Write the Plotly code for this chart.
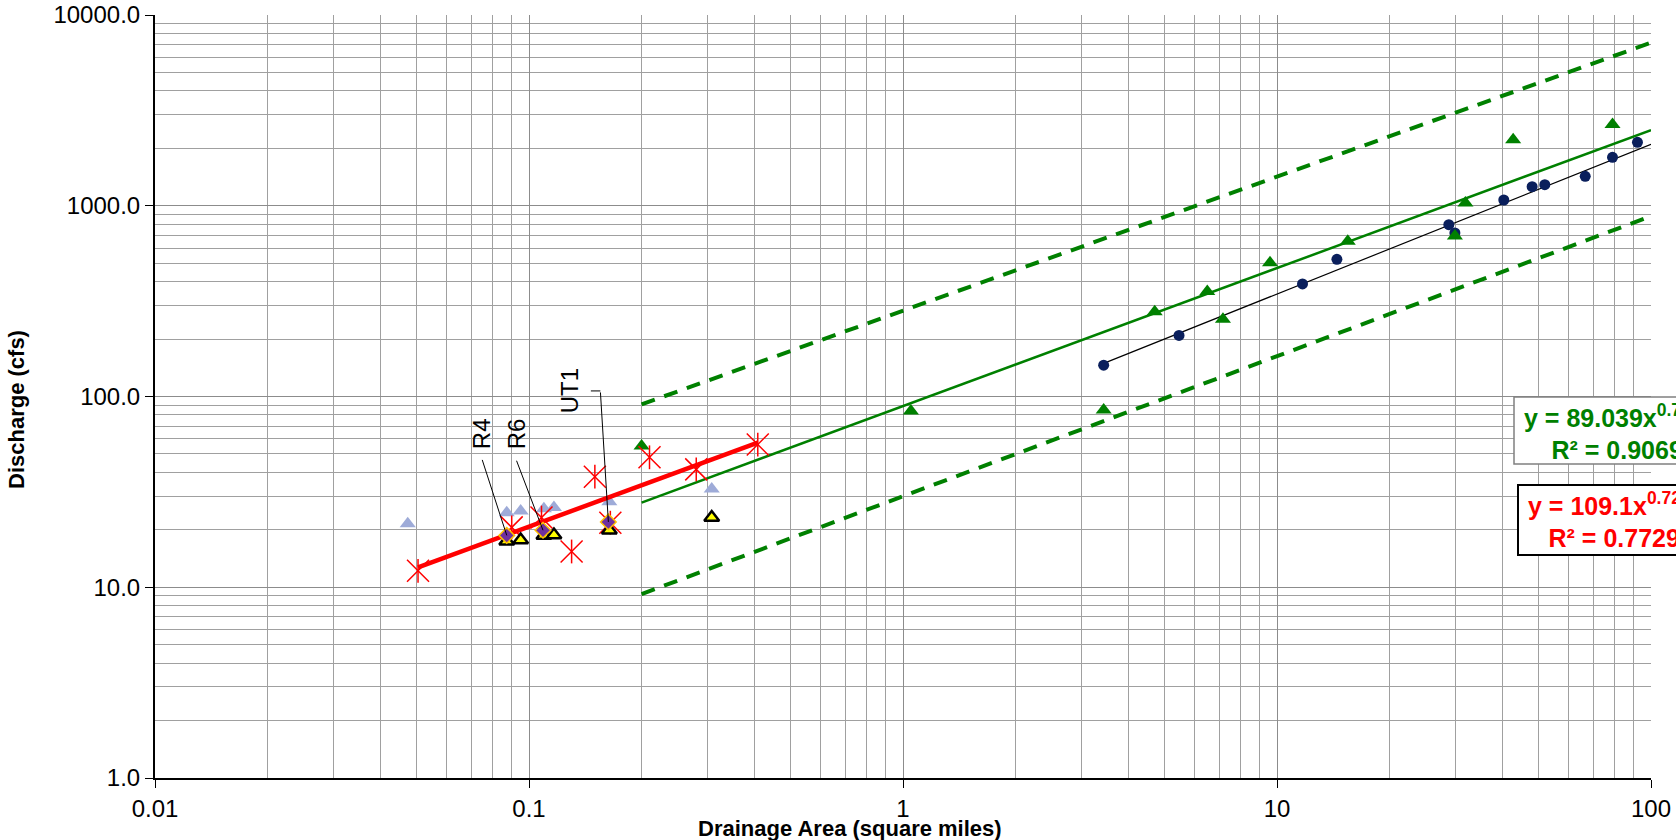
import numpy as np
import plotly.graph_objects as go

# ---------------- data ----------------
# USGS gauge stations (navy circles)
gauge_area = [3.44, 5.47, 11.7, 14.46, 28.8, 29.9, 40.4, 48.1, 52.0, 66.7, 78.9, 92.0]
gauge_q = [146, 209, 389, 524, 796, 720, 1072, 1259, 1289, 1427, 1795, 2151]

# regional curve data (green triangles)
regional_area = [0.2, 1.05, 3.44, 4.71, 6.51, 7.17, 9.58, 15.46, 29.9, 31.9, 42.8, 78.9]
regional_q = [55, 84, 85, 278, 355, 254, 502, 652, 695, 1035, 2220, 2670]

# small watershed data (red stars)
small_area = [0.0505, 0.0899, 0.108, 0.130, 0.150, 0.165, 0.210, 0.280, 0.409]
small_q = [12.2, 20.6, 23.2, 15.4, 38.0, 21.8, 48.0, 41.5, 56.0]

# light blue triangles
lb_area = [0.0474, 0.0872, 0.095, 0.1096, 0.1166, 0.164, 0.308]
lb_q = [21.5, 24.6, 25.1, 25.8, 26.2, 28.1, 32.7]

# yellow triangles
yel_area = [0.0872, 0.0950, 0.1096, 0.1166, 0.164, 0.308]
yel_q = [17.4, 17.7, 18.7, 18.8, 19.9, 23.2]

# project reaches (purple diamonds)
reach_names = ["R4", "R6", "UT1"]
reach_area = [0.0872, 0.109, 0.163]
reach_q = [18.7, 19.9, 22.0]

# trend lines: (coefficient, exponent, x-start, x-end)
green_fit = (89.039, 0.7236, 0.2, 100)
green_upper = (281.8, 0.7025, 0.2, 100)
green_lower = (30.0, 0.7342, 0.2, 100)
gauge_fit = (56.6, 0.7845, 3.44, 100)
red_fit = (109.1, 0.7200, 0.0505, 0.409)

green_eq = ("89.039", "0.7236", "0.9069")
red_eq = ("109.1", "0.7214", "0.7729")

x_ticks = [0.01, 0.1, 1, 10, 100]
x_tick_text = ["0.01", "0.1", "1", "10", "100"]
y_ticks = [1, 10, 100, 1000, 10000]
y_tick_text = ["1.0", "10.0", "100.0", "1000.0", "10000.0"]

# ---------------- styles ----------------
FONT = "Arial, 'Liberation Sans', sans-serif"
GREEN = "#008000"
NAVY = "#0a1f5c"
RED = "#ff0000"
LIGHTBLUE = "#9eabd8"

L, R, T, B = 155, 25, 15, 62
W, H = 1676, 840
pw, ph = W - L - R, H - T - B


def px_to_paper(px, py):
    return (px - L) / pw, (H - B - py) / ph


def power_line(fit):
    a, b, x0, x1 = fit
    xs = np.array([x0, x1])
    return xs, a * xs ** b


fig = go.Figure()

for fit in (green_upper, green_lower):
    xs, ys = power_line(fit)
    fig.add_trace(go.Scatter(x=xs, y=ys, mode="lines",
                             line=dict(color=GREEN, width=4, dash="14px,10px")))

xs, ys = power_line(green_fit)
fig.add_trace(go.Scatter(x=xs, y=ys, mode="lines", line=dict(color=GREEN, width=2.5)))

xs, ys = power_line(gauge_fit)
fig.add_trace(go.Scatter(x=xs, y=ys, mode="lines", line=dict(color="black", width=1.2)))

fig.add_trace(go.Scatter(x=gauge_area, y=gauge_q, mode="markers",
                         marker=dict(symbol="circle", size=11, color=NAVY)))

fig.add_trace(go.Scatter(x=regional_area, y=regional_q, mode="markers",
                         marker=dict(symbol="triangle-up", size=14, color=GREEN)))

fig.add_trace(go.Scatter(x=lb_area, y=lb_q, mode="markers",
                         marker=dict(symbol="triangle-up", size=14, color=LIGHTBLUE)))

# red star = X plus vertical bar
fig.add_trace(go.Scatter(x=small_area, y=small_q, mode="markers",
                         marker=dict(symbol="x-thin-open", size=22, color=RED,
                                     line=dict(color=RED, width=1.5))))
fig.add_trace(go.Scatter(x=small_area, y=small_q, mode="markers",
                         marker=dict(symbol="line-ns-open", size=17, color=RED,
                                     line=dict(color=RED, width=1.5))))

xs, ys = power_line(red_fit)
fig.add_trace(go.Scatter(x=xs, y=ys, mode="lines", line=dict(color=RED, width=4.5)))

fig.add_trace(go.Scatter(x=yel_area, y=yel_q, mode="markers",
                         marker=dict(symbol="triangle-up", size=13, color="#ffff00",
                                     line=dict(color="black", width=2.5))))

fig.add_trace(go.Scatter(x=reach_area, y=reach_q, mode="markers",
                         marker=dict(symbol="diamond", size=12, color="#7030a0",
                                     line=dict(color="#ffc000", width=1.5))))

annotations = []
shapes = []

# reach labels with leader lines
label_shift = {"R4": (-25, 102), "R6": (-27, 96), "UT1": (-38, 131)}
leader_tail = {"R4": (-25, -77), "R6": (-27, -71), "UT1": (-8, -131)}
for name, xa, ya in zip(reach_names, reach_area, reach_q):
    sx, sy = label_shift[name]
    annotations.append(dict(x=np.log10(xa), y=np.log10(ya), xref="x", yref="y",
                            text=name, showarrow=False, textangle=-90,
                            xshift=sx, yshift=sy,
                            font=dict(family=FONT, size=24, color="black")))
    tx, ty = leader_tail[name]
    annotations.append(dict(x=np.log10(xa), y=np.log10(ya), xref="x", yref="y",
                            text="", showarrow=True, arrowhead=0, arrowwidth=1,
                            arrowcolor="black", ax=tx, ay=ty, standoff=0))
# UT1 elbow
annotations.append(dict(x=np.log10(reach_area[2]), y=np.log10(reach_q[2]), xref="x", yref="y",
                        text="", showarrow=True, arrowhead=0, arrowwidth=1,
                        arrowcolor="black", ax=-11, ay=0, xshift=-8, yshift=131, standoff=0))

# equation boxes (boxes as paper shapes, text as annotations)
for (x0, y0, x1, y1, col, bw) in [(1514, 397, 1720, 464, "#808080", 1.5),
                                  (1518, 485, 1720, 555, "black", 2)]:
    px0, py0 = px_to_paper(x0, y0)
    px1, py1 = px_to_paper(x1, y1)
    shapes.append(dict(type="rect", xref="paper", yref="paper", x0=px0, y0=py0, x1=px1, y1=py1,
                       line=dict(color=col, width=bw), fillcolor="white", layer="above"))

gx, gy = px_to_paper(1523, 399)
annotations.append(dict(x=gx, y=gy, xref="paper", yref="paper", xanchor="left", yanchor="top",
                        text=f"<b>y = {green_eq[0]}x<sup>{green_eq[1]}</sup><br>R² = {green_eq[2]}</b>",
                        showarrow=False, align="center", borderpad=0,
                        font=dict(family=FONT, size=25, color=GREEN)))
rx, ry = px_to_paper(1527, 487)
annotations.append(dict(x=rx, y=ry, xref="paper", yref="paper", xanchor="left", yanchor="top",
                        text=f"<b>y = {red_eq[0]}x<sup>{red_eq[1]}</sup><br>R² = {red_eq[2]}</b>",
                        showarrow=False, align="center", borderpad=0,
                        font=dict(family=FONT, size=25, color=RED)))

# axis titles
tx, ty = px_to_paper(16, 410)
annotations.append(dict(x=tx, y=ty, xref="paper", yref="paper", text="<b>Discharge (cfs)</b>",
                        textangle=-90, showarrow=False, xanchor="center", yanchor="middle",
                        font=dict(family=FONT, size=22, color="black")))
tx, ty = px_to_paper(850, 828)
annotations.append(dict(x=tx, y=ty, xref="paper", yref="paper",
                        text="<b>Drainage Area (square miles)</b>", showarrow=False,
                        xanchor="center", yanchor="middle",
                        font=dict(family=FONT, size=22, color="black")))

axis_common = dict(type="log", showgrid=True, gridcolor="#8c8c8c", gridwidth=1,
                   showline=True, linecolor="black", linewidth=2, automargin=False,
                   ticks="outside", ticklen=8, tickcolor="black", tickwidth=1,
                   tickmode="array", zeroline=False,
                   tickfont=dict(family=FONT, size=24, color="black"),
                   minor=dict(showgrid=True, gridcolor="#a0a0a0", gridwidth=1,
                              dtick="D1", ticks=""))

fig.update_layout(
    width=W, height=H,
    margin=dict(l=L, r=R, t=T, b=B, autoexpand=False),
    paper_bgcolor="white", plot_bgcolor="white",
    showlegend=False,
    xaxis=dict(axis_common, range=[-2, 2], tickvals=x_ticks, ticktext=x_tick_text),
    yaxis=dict(axis_common, range=[0, 4], tickvals=y_ticks, ticktext=y_tick_text),
    annotations=annotations,
    shapes=shapes,
)

fig.write_html("out.html", config={"displayModeBar": False},
               post_script="document.body.style.margin='0';")
